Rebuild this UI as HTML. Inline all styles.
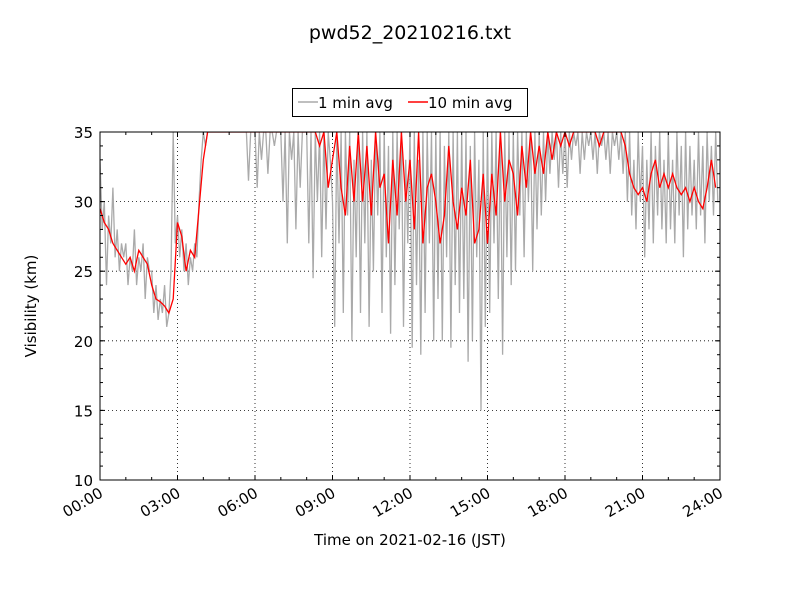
<!DOCTYPE html>
<html><head><meta charset="utf-8"><style>
body{margin:0;background:#fff;}
svg text{font-family:"DejaVu Sans","Liberation Sans",sans-serif;fill:#000;}
</style></head><body>
<svg id="c" width="800" height="600" xmlns="http://www.w3.org/2000/svg">
<rect width="800" height="600" fill="#fff"/>
<text x="410" y="39" font-size="19" text-anchor="middle">pwd52_20210216.txt</text>
<g>
<rect x="292.5" y="88.5" width="235" height="28" fill="#fff" stroke="#000"/>
<line x1="298" y1="102" x2="318" y2="102" stroke="#aaa" stroke-width="1.5"/>
<text x="318" y="108" font-size="15">1 min avg</text>
<line x1="408" y1="102" x2="428" y2="102" stroke="red" stroke-width="1.5"/>
<text x="428" y="108" font-size="15">10 min avg</text>
</g>
<defs><clipPath id="pc"><rect x="100" y="132" width="620" height="348"/></clipPath></defs>
<g id="grid"></g>
<g id="series" clip-path="url(#pc)"></g>
<g id="axes"></g>
<text x="36" y="306" font-size="15" text-anchor="middle" transform="rotate(-90 36 306)">Visibility (km)</text>
<text x="410" y="545" font-size="15" text-anchor="middle">Time on 2021-02-16 (JST)</text>
</svg>
<script>
const grayVals=[
33,28,30,24,29,27,31,26,28,25,27,26,
27,24,26,25,28,24,26,25,27,23,26,25,
25,22,24,21.5,23,22,24,21,22,25,35,27,
29,26,28,25,27,24,26,25,27,26,30,33,
35,34,35,35,35,35,35,35,35,35,35,35,
35,35,35,35,35,35,35,35,35,31.5,35,35,
35,31,35,33,35,35,32,35,35,34,35,35,
35,30,35,27,35,33,35,28,35,31,35,35,
35,27,35,24.5,35,30,35,26,35,28,35,33,
30,21,35,27,35,22,35,29,35,20,33,26,
35,22,35,27,35,21,33,25,35,29,35,22,
35,26,34,20.5,35,24,35,28,35,21,33,27,
35,19.5,35,24,33,19,35,22,35,27,35,20,
35,23,35,20,34,26,35,19.5,35,24,35,22,
35,23,35,18.5,34,20,35,26,33,15,35,21,
35,22,35,27,35,23,35,19,35,26,35,24,
35,25,35,29,35,26,35,30,35,25,35,28,
35,29,35,30,35,32,35,33,35,31,35,32,
35,31,35,33,35,34,35,32,35,33,35,34,
35,33,35,32,35,34,35,33,35,32,35,34,
35,33,35,32,35,30,35,29,33,28,35,30,
34,26,33,28,35,27,34,29,35,28,33,27,
35,28,33,27,35,29,34,26,35,28,34,29,
33,28,35,29,34,27,35,30,34,29,35,30];
const redVals=[
29.5,28.5,28,27,26.5,26,
25.5,26,25,26.5,26,25.5,
24,23,22.8,22.5,22,23,
28.5,27.5,25,26.5,26,29.5,
33,35,35,35,35,35,
35,35,35,35,35,35,
35,35,35,35,35,35,
35,35,35,35,35,35,
35,35,35,34,35,31,
33,35,31,29,34,30,
35,30,34,29,35,31,
32,27,33,29,35,30,
33,28,35,27,31,32,
30,27,29,34,30,28,
31,29,33,27,28,32,
27,32,29,35,30,33,
32,29,34,31,35,32,
34,32,35,33,35,34,
35,34,35,35,35,35,
35,35,34,35,35,35,
35,35,34,32,31,30.5,
31,30,32,33,31,32,
31,32,31,30.5,31,30,
31,30,29.5,31,33,31];
const yTicks=[10,15,20,25,30,35];
const xTickLabels=["00:00","03:00","06:00","09:00","12:00","15:00","18:00","21:00","24:00"];
const NS="http://www.w3.org/2000/svg";
const X0=100,X1=720,Y0=480,Y1=132;
const xs=h=>X0+(h/24)*(X1-X0);
const ys=v=>Y0-(v-10)/25*(Y0-Y1);
function mk(t,a,p){const e=document.createElementNS(NS,t);for(const k in a)e.setAttribute(k,a[k]);p.appendChild(e);return e;}
const grid=document.getElementById('grid'),axes=document.getElementById('axes'),ser=document.getElementById('series');
yTicks.forEach(v=>{
 if(v>10&&v<35){const l=mk('line',{x1:X0,x2:X1,y1:ys(v),y2:ys(v),stroke:'#000','stroke-dasharray':'1,3','stroke-width':0.8},grid);
 
 }
 const t=mk('text',{x:X0-7,y:ys(v)+6,'font-size':15,'text-anchor':'end'},axes);t.textContent=v;
 
 
 mk('line',{x1:X0,x2:X0+5,y1:ys(v),y2:ys(v),stroke:'#000'},axes);
 mk('line',{x1:X1,x2:X1-5,y1:ys(v),y2:ys(v),stroke:'#000'},axes);
});
for(let v=10;v<=35;v++){mk('line',{x1:X0,x2:X0+3,y1:ys(v),y2:ys(v),stroke:'#000'},axes);mk('line',{x1:X1,x2:X1-3,y1:ys(v),y2:ys(v),stroke:'#000'},axes);}
xTickLabels.forEach((s,i)=>{
 const h=i*3,x=xs(h);
 if(i>0&&i<8){const l=mk('line',{x1:x,x2:x,y1:Y0,y2:Y1,stroke:'#000','stroke-dasharray':'1,3','stroke-width':0.8},grid);
 
 }
 mk('line',{x1:x,x2:x,y1:Y0,y2:Y0-5,stroke:'#000'},axes);
 mk('line',{x1:x,x2:x,y1:Y1,y2:Y1+5,stroke:'#000'},axes);
 const t=mk('text',{x:x+4,y:Y0+16,'font-size':15,'text-anchor':'end',transform:`rotate(-30 ${x+4} ${Y0+16})`},axes);t.textContent=s;
 
 
});
for(let h=0;h<=24;h++){const x=xs(h);mk('line',{x1:x,x2:x,y1:Y0,y2:Y0-3,stroke:'#000'},axes);mk('line',{x1:x,x2:x,y1:Y1,y2:Y1+3,stroke:'#000'},axes);}
mk('rect',{x:X0,y:Y1,width:X1-X0,height:Y0-Y1,fill:'none',stroke:'#000'},axes);
function path(vals,step,col,name){
 const d=vals.map((v,i)=>(i?'L':'M')+xs(i*step).toFixed(1)+','+ys(v).toFixed(1)).join('');
 const p=mk('path',{d:d,fill:'none',stroke:col,'stroke-width':1.3},ser);
 
 
}
path(grayVals,24/grayVals.length,'#aaa','series-1min-avg');
path(redVals,24/redVals.length,'#f00','series-10min-avg');
</script>
</body></html>
